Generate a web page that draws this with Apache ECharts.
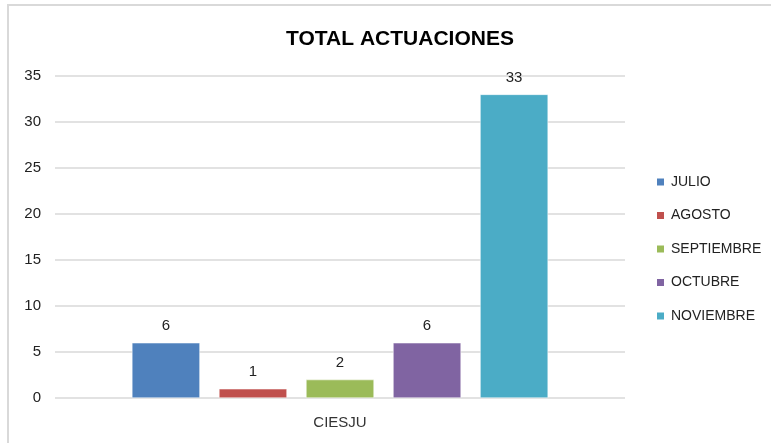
<!DOCTYPE html>
<html><head><meta charset="utf-8">
<script src="https://cdn.jsdelivr.net/npm/echarts@6/dist/echarts.min.js"></script>
<style>html,body{margin:0;padding:0;background:#fff}#c{width:771px;height:443px}</style>
</head><body><div id="c"></div>
<script>
const categories = ['CIESJU'];
const seriesNames = ['JULIO', 'AGOSTO', 'SEPTIEMBRE', 'OCTUBRE', 'NOVIEMBRE'];
const seriesValues = [[6], [1], [2], [6], [33]];
const colors = ['#4F81BD', '#C0504D', '#9BBB59', '#8064A2', '#4BACC6'];
const yTicks = [0, 5, 10, 15, 20, 25, 30, 35];

const font = "'Liberation Sans', 'Open Sans', sans-serif";
const chart = echarts.init(document.getElementById('c'), null, {renderer: 'canvas'});
chart.setOption({
  animation: false,
  graphic: [{type: 'rect', shape: {x: 8, y: 5, width: 800, height: 500}, style: {fill: 'none', stroke: '#d9d9d9', lineWidth: 2}, z: -1}],
  title: {text: 'TOTAL ACTUACIONES', left: 395, top: 24, textAlign: 'center',
    textStyle: {fontFamily: font, fontSize: 21, fontWeight: 'bold', color: '#000'}},
  legend: {orient: 'vertical', left: 650, top: 170, itemWidth: 9, itemHeight: 9, itemGap: 19.5,
    icon: 'rect', data: seriesNames,
    textStyle: {fontFamily: font, fontSize: 14, color: '#222', padding: [0, 0, 0, 1]}},
  grid: {left: 55, right: 146, top: 76, bottom: 45, containLabel: false},
  xAxis: {type: 'category', data: categories,
    axisLine: {show: false}, axisTick: {show: false},
    axisLabel: {fontFamily: font, fontSize: 15, color: '#333', margin: 17}},
  yAxis: {type: 'value', min: yTicks[0], max: yTicks[yTicks.length - 1], interval: 5,
    axisLine: {show: false}, axisTick: {show: false},
    axisLabel: {fontFamily: font, fontSize: 15, color: '#222', margin: 14},
    splitLine: {lineStyle: {color: '#d9d9d9', width: 1.5}}},
  series: seriesNames.map((n, i) => ({
    name: n, type: 'bar', data: seriesValues[i], barWidth: 68, barGap: '28%',
    itemStyle: {color: colors[i], borderColor: '#fff', borderWidth: 0.5},
    label: {show: true, position: 'top', distance: 9, fontFamily: font, fontSize: 15, color: '#222'}
  }))
});
</script></body></html>
